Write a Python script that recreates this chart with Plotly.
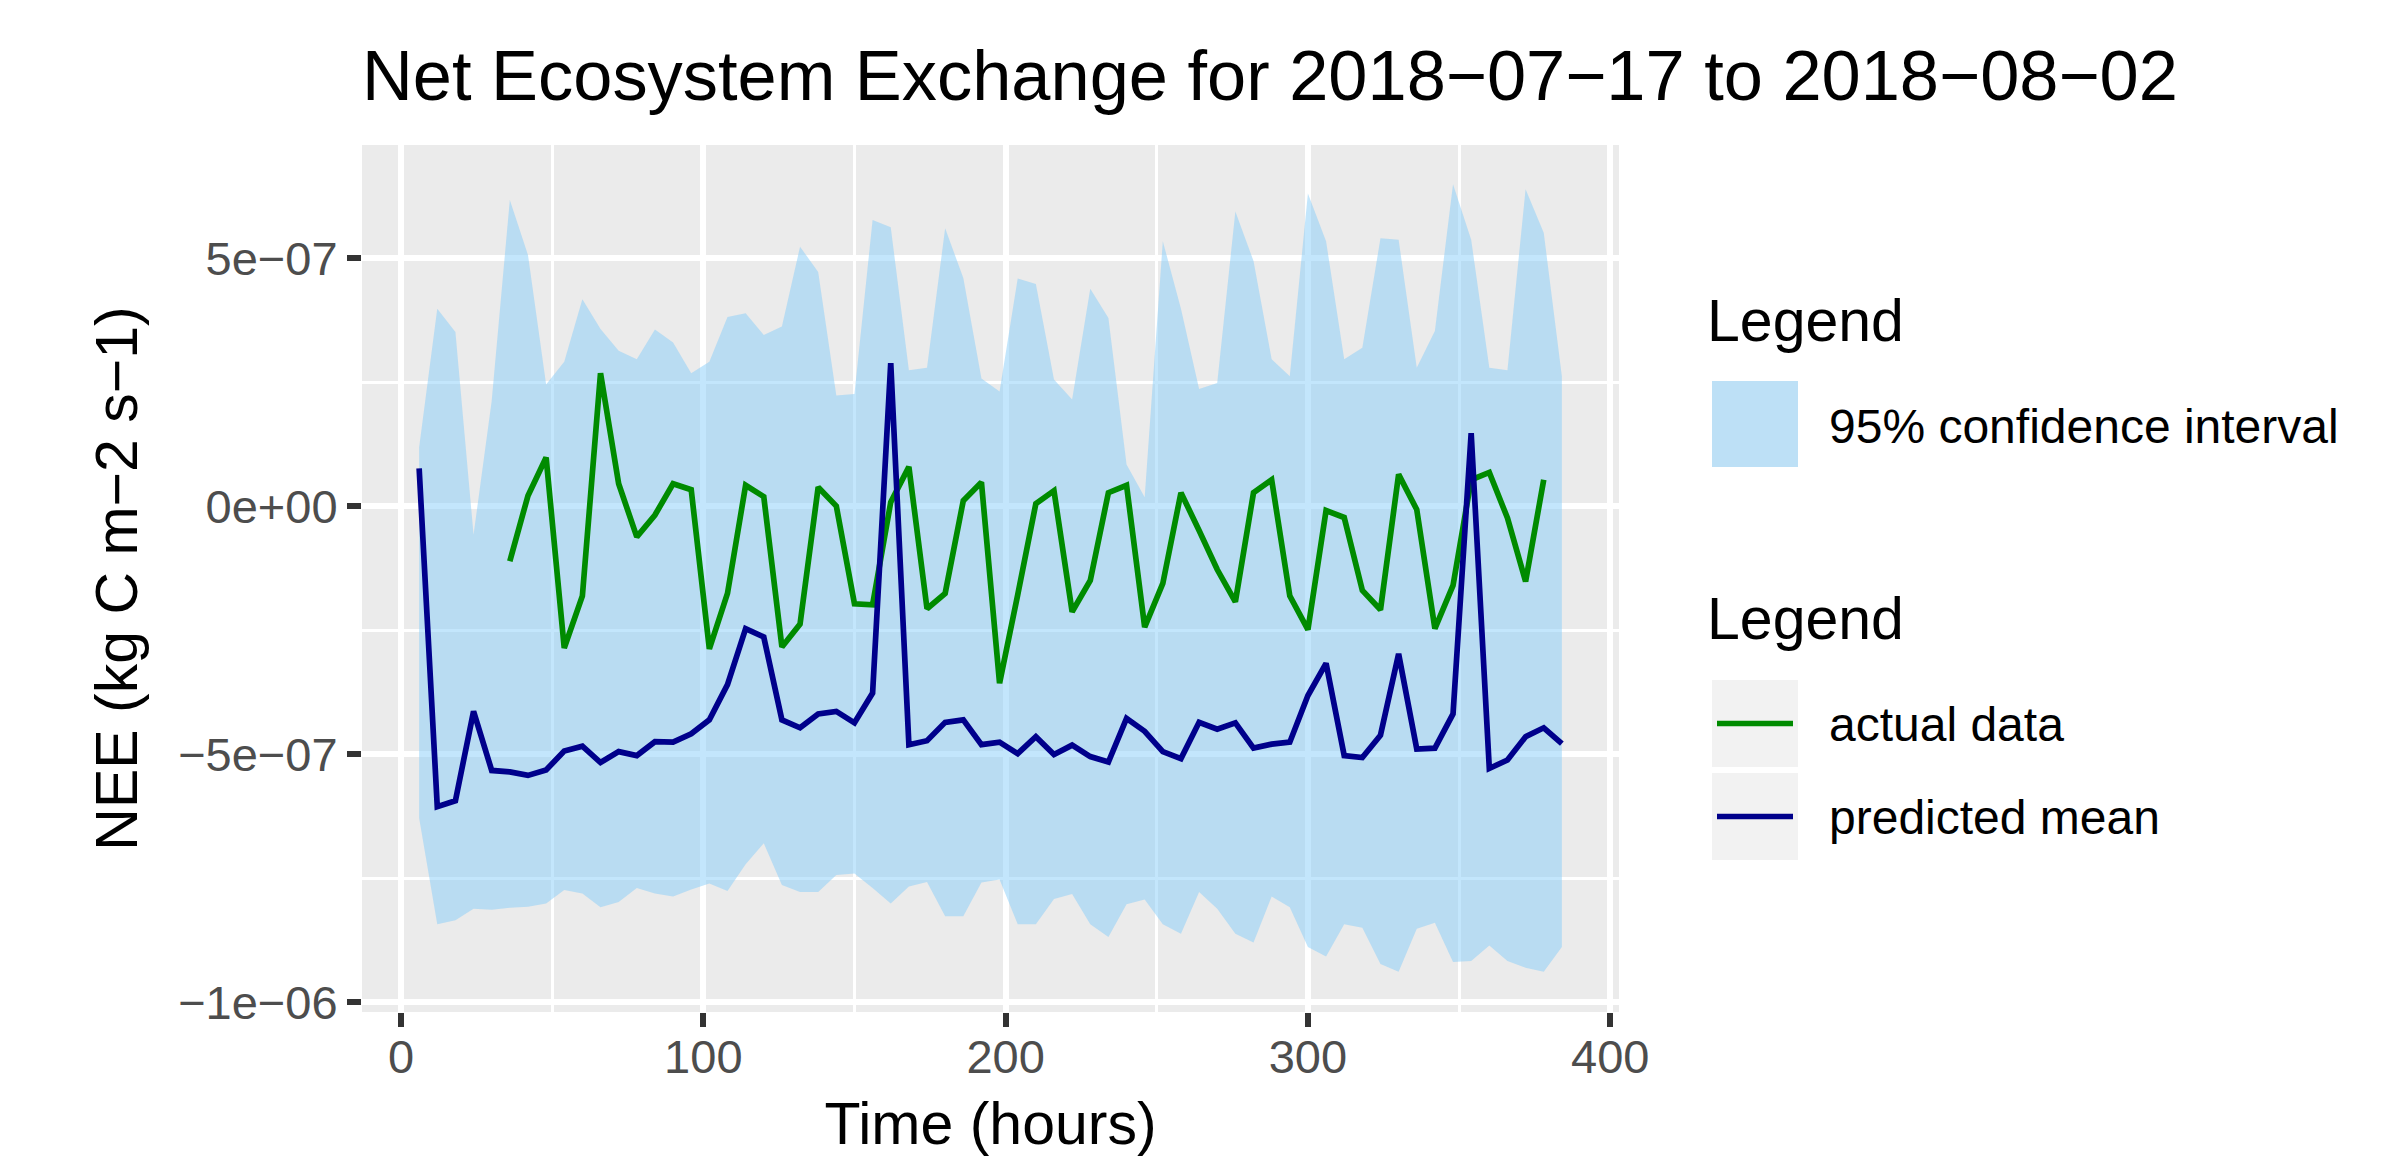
import plotly.graph_objects as go

# ---------------- data (NEE values in units of 1e-07 kg C m-2 s-1) ----------------
hours = [6, 12, 18, 24, 30, 36, 42, 48, 54, 60, 66, 72, 78, 84, 90, 96,
         102, 108, 114, 120, 126, 132, 138, 144, 150, 156, 162, 168, 174, 180, 186, 192,
         198, 204, 210, 216, 222, 228, 234, 240, 246, 252, 258, 264, 270, 276, 282, 288,
         294, 300, 306, 312, 318, 324, 330, 336, 342, 348, 354, 360, 366, 372, 378, 384]

predicted_mean = [0.76, -6.06, -5.94, -4.14, -5.33, -5.36, -5.43, -5.32, -4.94, -4.84, -5.17, -4.95,
                  -5.03, -4.75, -4.76, -4.59, -4.31, -3.60, -2.47, -2.64, -4.31, -4.47, -4.19, -4.14,
                  -4.37, -3.77, 2.88, -4.81, -4.73, -4.36, -4.31, -4.81, -4.76, -4.99, -4.65, -5.01,
                  -4.82, -5.05, -5.16, -4.28, -4.54, -4.95, -5.09, -4.36, -4.50, -4.37, -4.88, -4.80,
                  -4.76, -3.82, -3.17, -5.03, -5.07, -4.62, -2.98, -4.90, -4.88, -4.19, 1.47, -5.29,
                  -5.12, -4.65, -4.47, -4.79]

ci_upper = [1.18, 3.98, 3.51, -0.58, 2.12, 6.17, 5.06, 2.45, 2.91, 4.17, 3.57, 3.13,
            2.96, 3.56, 3.30, 2.68, 2.91, 3.81, 3.89, 3.45, 3.62, 5.23, 4.72, 2.23,
            2.26, 5.77, 5.62, 2.74, 2.79, 5.60, 4.60, 2.57, 2.31, 4.59, 4.48, 2.55,
            2.15, 4.38, 3.79, 0.84, 0.18, 5.34, 3.98, 2.36, 2.48, 5.94, 4.94, 2.96,
            2.62, 6.30, 5.34, 2.96, 3.19, 5.40, 5.37, 2.79, 3.53, 6.49, 5.37, 2.79,
            2.74, 6.39, 5.51, 2.62]

ci_lower = [-6.29, -8.43, -8.35, -8.12, -8.14, -8.10, -8.08, -8.01, -7.74, -7.81, -8.09, -7.98,
            -7.70, -7.81, -7.87, -7.73, -7.61, -7.76, -7.22, -6.80, -7.64, -7.78, -7.78, -7.44,
            -7.41, -7.70, -8.01, -7.67, -7.58, -8.27, -8.27, -7.59, -7.53, -8.43, -8.43, -7.92,
            -7.82, -8.43, -8.69, -8.03, -7.93, -8.43, -8.62, -7.78, -8.12, -8.62, -8.80, -7.87,
            -8.09, -8.89, -9.08, -8.43, -8.50, -9.23, -9.39, -8.52, -8.40, -9.19, -9.17, -8.86,
            -9.17, -9.31, -9.39, -8.89]

actual_hours = [36, 42, 48, 54, 60, 66, 72, 78, 84, 90, 96, 102, 108, 114, 120, 126,
                132, 138, 144, 150, 156, 162, 168, 174, 180, 186, 192, 198, 204, 210, 216, 222,
                228, 234, 240, 246, 252, 258, 264, 270, 276, 282, 288, 294, 300, 306, 312, 318,
                324, 330, 336, 342, 348, 354, 360, 366, 372, 378]

actual_data = [-1.11, 0.21, 0.98, -2.86, -1.81, 2.68, 0.45, -0.62, -0.18, 0.45, 0.33, -2.88,
               -1.76, 0.42, 0.19, -2.84, -2.38, 0.38, 0.00, -1.97, -1.99, 0.08, 0.79, -2.07,
               -1.76, 0.11, 0.48, -3.57, -1.79, 0.05, 0.31, -2.13, -1.50, 0.27, 0.42, -2.44,
               -1.56, 0.27, -0.49, -1.28, -1.93, 0.27, 0.53, -1.81, -2.49, -0.09, -0.23, -1.70,
               -2.09, 0.64, -0.07, -2.47, -1.60, 0.53, 0.68, -0.24, -1.52, 0.53]

UNIT = 1e-07
x_tick_vals = [0, 100, 200, 300, 400]
x_tick_text = ["0", "100", "200", "300", "400"]
y_tick_vals = [-1e-06, -5e-07, 0, 5e-07]
y_tick_text = ["\u22121e\u221206", "\u22125e\u221207", "0e+00", "5e\u221207"]

title_text = "Net Ecosystem Exchange for 2018\u221207\u221217 to 2018\u221208\u221202"
x_title = "Time (hours)"
y_title = "NEE (kg C m\u22122 s\u22121)"

# ---------------- styling ----------------
FONT = "Liberation Sans, Arial, Helvetica, sans-serif"
W, H = 2388, 1158
PL, PR, PT, PB = 362, 1619, 145, 1012   # panel box in pixels
LW = 5.7
FILL = "rgba(135,206,250,0.5)"
GREEN = "#008B00"
NAVY = "#00008B"


def px(xp):
    return (xp - PL) / (PR - PL)


def py(yp):
    return (PB - yp) / (PB - PT)


to_si = lambda vals: [v * UNIT for v in vals]

fig = go.Figure()
fig.add_trace(go.Scatter(x=hours, y=to_si(ci_lower), mode="lines",
                         line=dict(width=0, color="rgba(0,0,0,0)"),
                         showlegend=False, hoverinfo="skip"))
fig.add_trace(go.Scatter(x=hours, y=to_si(ci_upper), mode="lines", fill="tonexty",
                         fillcolor=FILL, line=dict(width=0, color="rgba(0,0,0,0)"),
                         name="95% confidence interval", showlegend=False))
fig.add_trace(go.Scatter(x=actual_hours, y=to_si(actual_data), mode="lines",
                         line=dict(color=GREEN, width=LW), name="actual data", showlegend=False))
fig.add_trace(go.Scatter(x=hours, y=to_si(predicted_mean), mode="lines",
                         line=dict(color=NAVY, width=LW), name="predicted mean", showlegend=False))

axis_common = dict(
    ticks="outside", ticklen=14, tickwidth=LW, tickcolor="#333333",
    tickfont=dict(family=FONT, size=47, color="#4D4D4D"),
    showgrid=True, gridcolor="white", gridwidth=LW,
    zeroline=False, showline=False,
)

fig.update_layout(
    width=W, height=H,
    margin=dict(l=PL, r=W - PR, t=PT, b=H - PB, pad=0),
    paper_bgcolor="white", plot_bgcolor="#EBEBEB",
    font=dict(family=FONT, color="black"),
    showlegend=False,
    title=dict(text=title_text, font=dict(family=FONT, size=70.4, color="black"),
               xref="paper", x=0, xanchor="left",
               yref="container", y=1 - 75.5 / H, yanchor="middle"),
    xaxis=dict(range=[-12.9, 402.9], tickvals=x_tick_vals, ticktext=x_tick_text,
               ticklabelstandoff=-10,
               minor=dict(tickvals=[50, 150, 250, 350], showgrid=True, gridcolor="white",
                          gridwidth=LW / 2, ticks=""),
               title=dict(text=x_title, font=dict(family=FONT, size=59, color="black"), standoff=20),
               **axis_common),
    yaxis=dict(range=[-1.02e-06, 7.28e-07], tickvals=y_tick_vals, ticktext=y_tick_text,
               minor=dict(tickvals=[-7.5e-07, -2.5e-07, 2.5e-07], showgrid=True, gridcolor="white",
                          gridwidth=LW / 2, ticks=""),
               title=dict(text=y_title, font=dict(family=FONT, size=59, color="black"), standoff=21),
               **axis_common),
)

# ---------------- legend (ggplot-style, two guides) ----------------
KX0, KX1 = 1712, 1798
shapes = []
# CI key
shapes.append(dict(type="rect", xref="paper", yref="paper", x0=px(KX0), x1=px(KX1),
                   y0=py(467), y1=py(381), fillcolor="#F2F2F2", line=dict(width=0), layer="above"))
shapes.append(dict(type="rect", xref="paper", yref="paper", x0=px(KX0), x1=px(KX1),
                   y0=py(467), y1=py(381), fillcolor=FILL, line=dict(width=0), layer="above"))
# line keys
for (top, bot, col) in [(680, 767, GREEN), (773, 860, NAVY)]:
    shapes.append(dict(type="rect", xref="paper", yref="paper", x0=px(KX0), x1=px(KX1),
                       y0=py(bot), y1=py(top), fillcolor="#F2F2F2", line=dict(width=0), layer="above"))
    mid = (top + bot) / 2
    shapes.append(dict(type="line", xref="paper", yref="paper", x0=px(1717), x1=px(1793),
                       y0=py(mid), y1=py(mid), line=dict(color=col, width=LW), layer="above"))

ann = []
def label(text, xp_, yp_, size):
    ann.append(dict(text=text, xref="paper", yref="paper", x=px(xp_), y=py(yp_),
                    xanchor="left", yanchor="middle", showarrow=False,
                    font=dict(family=FONT, size=size, color="black")))

label("Legend", 1705, 321, 59)
label("95% confidence interval", 1827, 426, 48)
label("Legend", 1705, 619, 59)
label("actual data", 1827, 724, 48)
label("predicted mean", 1827, 817, 48)

fig.update_layout(shapes=shapes, annotations=ann)

# remove the default 8px page margin so the figure sits at the window's origin
fig.write_html("out.html", config={"displayModeBar": False},
               post_script="document.body.style.margin='0px';")
